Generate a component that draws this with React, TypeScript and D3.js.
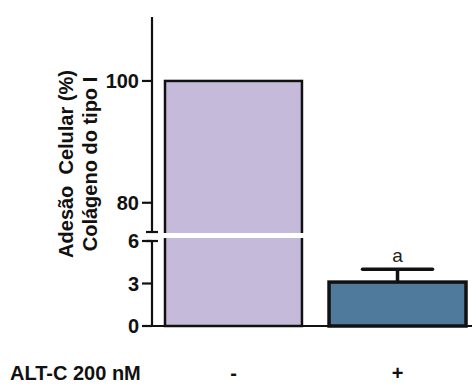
import React from "react";
import * as d3 from "d3";

const categories = ["-", "+"];
const values = [100, 3.1];
const errors = [0, 0.9];
const upperTicks = [80, 100];
const lowerTicks = [0, 3, 6];
const colors = ["#c5bad9", "#4f7a9c"];
const groupLabel = "ALT-C 200 nM";
const titleLines = ["Adesão  Celular (%)", "Colágeno do tipo I"];
const sigLabels = ["", "a"];

const width = 472;
const height = 385;
const axisX = 152;
const baseY = 326;

const App = () => {
  // broken y axis: two linear pieces
  const yLow = d3.scaleLinear().domain([0, 6]).range([baseY, 241]);
  const yHigh = d3.scaleLinear().domain([75.2, 110.5]).range([232, 17]);
  const y = (v: number) => (v <= 6 ? yLow(v) : yHigh(v));

  const x = d3.scaleBand().domain(categories).range([165, 466]).paddingInner(0.165).paddingOuter(0);
  const w = x.bandwidth();

  const font = "Arial, 'Liberation Sans', sans-serif";

  return (
    <svg width={width} height={height} style={{ position: "absolute", left: 0, top: 0 }}>
      <rect width={width} height={height} fill="white" />
      {categories.map((c, i) => {
        const x0 = x(c)!;
        const top = y(values[i]);
        const capY = y(values[i] + errors[i]);
        return (
          <g key={c}>
            <rect x={x0} y={top} width={w} height={baseY - top} fill={colors[i]} stroke="#111" strokeWidth={i === 0 ? 2.5 : 3.5} />
            {values[i] > 6 && (
              <rect x={x0 - 3} y={yHigh(75.2) + 1} width={w + 6} height={yLow(6) - yHigh(75.2) - 4} fill="white" />
            )}
            {errors[i] > 0 && (
              <g stroke="#111" strokeWidth={3.5}>
                <line x1={x0 + w / 2} x2={x0 + w / 2} y1={top} y2={capY} />
                <line x1={x0 + w / 2 - 35} x2={x0 + w / 2 + 35} y1={capY} y2={capY} strokeLinecap="round" />
              </g>
            )}
            {sigLabels[i] && (
              <text x={x0 + w / 2} y={capY - 7} textAnchor="middle" fontFamily={font} fontSize={19} fill="#222">
                {sigLabels[i]}
              </text>
            )}
            <text x={x0 + w / 2} y={380} textAnchor="middle" fontFamily={font} fontSize={20} fontWeight="bold" fill="#111">
              {c}
            </text>
          </g>
        );
      })}
      <g stroke="#111" strokeWidth={2.2}>
        <line x1={axisX} x2={axisX} y1={yHigh(110.5)} y2={yHigh(75.2)} />
        <line x1={axisX} x2={axisX} y1={yLow(6)} y2={baseY} />
        <line x1={axisX - 6} x2={axisX + 6} y1={yHigh(75.2)} y2={yHigh(75.2)} />
        <line x1={axisX - 6} x2={axisX + 6} y1={yLow(6)} y2={yLow(6)} />
        <line x1={axisX - 10} x2={width} y1={baseY} y2={baseY} />
        {upperTicks.map((t) => (
          <line key={"u" + t} x1={axisX - 10} x2={axisX} y1={yHigh(t)} y2={yHigh(t)} />
        ))}
        {lowerTicks.map((t) => (
          <line key={"l" + t} x1={axisX - 10} x2={axisX} y1={yLow(t)} y2={yLow(t)} />
        ))}
      </g>
      <g fontFamily={font} fontSize={20} fontWeight="bold" fill="#111" textAnchor="end">
        {upperTicks.map((t) => (
          <text key={"u" + t} x={axisX - 13} y={yHigh(t) + 7}>{t}</text>
        ))}
        {lowerTicks.map((t) => (
          <text key={"l" + t} x={axisX - 13} y={yLow(t) + 7}>{t}</text>
        ))}
      </g>
      <g fontFamily={font} fontSize={20} fontWeight="bold" fill="#111" textAnchor="middle">
        {titleLines.map((l, i) => (
          <text key={l} transform={`translate(${73 + i * 24},${164}) rotate(-90)`} style={{ whiteSpace: "pre" }}>
            {l}
          </text>
        ))}
      </g>
      <text x={10} y={380} fontFamily={font} fontSize={20} fontWeight="bold" fill="#111">
        {groupLabel}
      </text>
    </svg>
  );
};

export default App;
